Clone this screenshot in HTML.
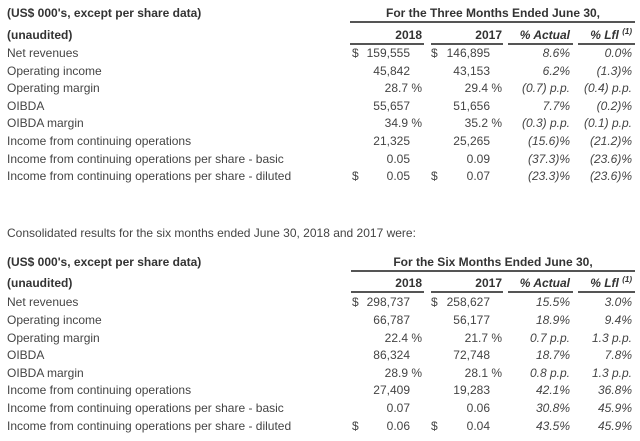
<!DOCTYPE html>
<html><head><meta charset="utf-8"><style>
body{margin:0;width:640px;height:441px;background:#fff;position:relative;overflow:hidden;font-family:"Liberation Sans",Arial,sans-serif;font-size:12px;color:#444}
.r{position:absolute;left:0;width:640px;height:16px;line-height:16px}
.r span{position:absolute;white-space:nowrap}
.l{left:7px}
.d1{left:352px}.d2{left:431px}
.a{right:230px}.ap{right:218px}.b{right:150px}.bp{right:138px}
.c{right:70px;font-style:italic}.e{right:8px;font-style:italic}
b{font-weight:bold;color:#333}
.ln{position:absolute;background:#555}
sup{font-size:8px;line-height:0}
</style></head><body>

<div class="r" style="top:5px"><span class="l"><b>(US$ 000's, except per share data)</b></span><span style="left:351px;width:284px;text-align:center"><b>For the Three Months Ended June 30,</b></span></div>
<div class="ln" style="top:21px;left:350px;width:285px;height:2px"></div>
<div class="r" style="top:27px"><span class="l"><b>(unaudited)</b></span><span class="bp" style="right:218px"><b>2018</b></span><span class="bp"><b>2017</b></span><span class="c"><b>% Actual</b></span><span class="e"><b>% Lfl <sup>(1)</sup></b></span></div>
<div class="ln" style="top:43px;left:350px;width:74px;height:1.5px"></div>
<div class="ln" style="top:43px;left:431px;width:72px;height:1.5px"></div>
<div class="ln" style="top:43px;left:508px;width:65px;height:1.5px"></div>
<div class="ln" style="top:43px;left:578px;width:57px;height:1.5px"></div>

<div class="r" style="top:45px"><span class="l">Net revenues</span><span class="d1">$</span><span class="a">159,555</span><span class="d2">$</span><span class="b">146,895</span><span class="c">8.6%</span><span class="e">0.0%</span></div>
<div class="r" style="top:63px"><span class="l">Operating income</span><span class="a">45,842</span><span class="b">43,153</span><span class="c">6.2%</span><span class="e">(1.3)%</span></div>
<div class="r" style="top:80px"><span class="l">Operating margin</span><span class="ap">28.7 %</span><span class="bp">29.4 %</span><span class="c">(0.7) p.p.</span><span class="e">(0.4) p.p.</span></div>
<div class="r" style="top:98px"><span class="l">OIBDA</span><span class="a">55,657</span><span class="b">51,656</span><span class="c">7.7%</span><span class="e">(0.2)%</span></div>
<div class="r" style="top:115px"><span class="l">OIBDA margin</span><span class="ap">34.9 %</span><span class="bp">35.2 %</span><span class="c">(0.3) p.p.</span><span class="e">(0.1) p.p.</span></div>
<div class="r" style="top:133px"><span class="l">Income from continuing operations</span><span class="a">21,325</span><span class="b">25,265</span><span class="c">(15.6)%</span><span class="e">(21.2)%</span></div>
<div class="r" style="top:151px"><span class="l">Income from continuing operations per share - basic</span><span class="a">0.05</span><span class="b">0.09</span><span class="c">(37.3)%</span><span class="e">(23.6)%</span></div>
<div class="r" style="top:168px"><span class="l">Income from continuing operations per share - diluted</span><span class="d1">$</span><span class="a">0.05</span><span class="d2">$</span><span class="b">0.07</span><span class="c">(23.3)%</span><span class="e">(23.6)%</span></div>

<div class="r" style="top:225px"><span class="l">Consolidated results for the six months ended June 30, 2018 and 2017 were:</span></div>

<div class="r" style="top:254px"><span class="l"><b>(US$ 000's, except per share data)</b></span><span style="left:351px;width:284px;text-align:center"><b>For the Six Months Ended June 30,</b></span></div>
<div class="ln" style="top:270px;left:351px;width:284px;height:2px"></div>
<div class="r" style="top:275px"><span class="l"><b>(unaudited)</b></span><span class="bp" style="right:218px"><b>2018</b></span><span class="bp"><b>2017</b></span><span class="c"><b>% Actual</b></span><span class="e"><b>% Lfl <sup>(1)</sup></b></span></div>
<div class="ln" style="top:291px;left:351px;width:73px;height:1.5px"></div>
<div class="ln" style="top:291px;left:431px;width:72px;height:1.5px"></div>
<div class="ln" style="top:291px;left:508px;width:65px;height:1.5px"></div>
<div class="ln" style="top:291px;left:578px;width:57px;height:1.5px"></div>

<div class="r" style="top:294px"><span class="l">Net revenues</span><span class="d1">$</span><span class="a">298,737</span><span class="d2">$</span><span class="b">258,627</span><span class="c">15.5%</span><span class="e">3.0%</span></div>
<div class="r" style="top:312px"><span class="l">Operating income</span><span class="a">66,787</span><span class="b">56,177</span><span class="c">18.9%</span><span class="e">9.4%</span></div>
<div class="r" style="top:330px"><span class="l">Operating margin</span><span class="ap">22.4 %</span><span class="bp">21.7 %</span><span class="c">0.7 p.p.</span><span class="e">1.3 p.p.</span></div>
<div class="r" style="top:347px"><span class="l">OIBDA</span><span class="a">86,324</span><span class="b">72,748</span><span class="c">18.7%</span><span class="e">7.8%</span></div>
<div class="r" style="top:365px"><span class="l">OIBDA margin</span><span class="ap">28.9 %</span><span class="bp">28.1 %</span><span class="c">0.8 p.p.</span><span class="e">1.3 p.p.</span></div>
<div class="r" style="top:382px"><span class="l">Income from continuing operations</span><span class="a">27,409</span><span class="b">19,283</span><span class="c">42.1%</span><span class="e">36.8%</span></div>
<div class="r" style="top:400px"><span class="l">Income from continuing operations per share - basic</span><span class="a">0.07</span><span class="b">0.06</span><span class="c">30.8%</span><span class="e">45.9%</span></div>
<div class="r" style="top:418px"><span class="l">Income from continuing operations per share - diluted</span><span class="d1">$</span><span class="a">0.06</span><span class="d2">$</span><span class="b">0.04</span><span class="c">43.5%</span><span class="e">45.9%</span></div>

</body></html>
